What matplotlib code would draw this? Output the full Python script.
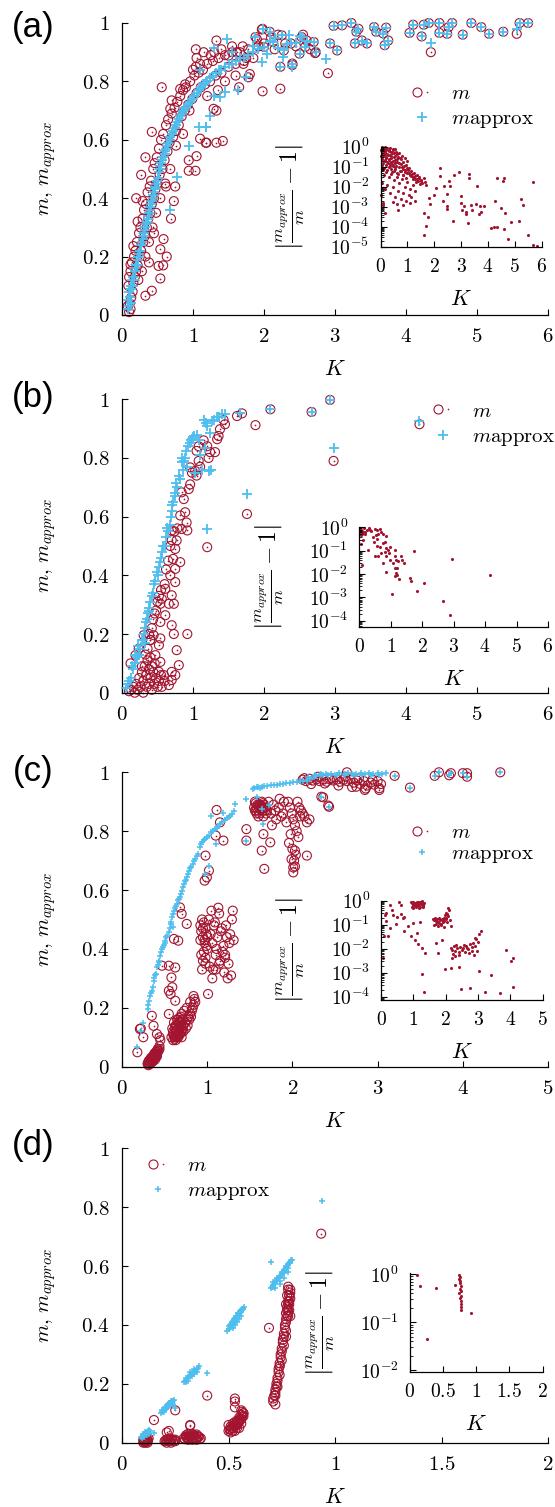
import numpy as np
import matplotlib
matplotlib.use('Agg')
import matplotlib.pyplot as plt
from matplotlib.lines import Line2D
from matplotlib.legend_handler import HandlerTuple
from matplotlib.ticker import FixedLocator, FuncFormatter, LogLocator, NullFormatter

# ---------------- data: panel (a) ----------------
Ka_band = [0.08,0.09,0.10,0.10,0.11,0.12,0.12,0.13,0.14,0.15,
           0.16,0.17,0.18,0.19,0.20,0.21,0.22,0.23,0.24,0.25,
           0.26,0.27,0.28,0.29,0.30,0.31,0.32,0.33,0.34,0.35,
           0.36,0.37,0.38,0.39,0.40,0.41,0.42,0.43,0.44,0.45,
           0.46,0.47,0.48,0.49,0.50,0.52,0.53,0.54,0.55,0.57,
           0.58,0.60,0.61,0.62,0.64,0.65,0.67,0.68,0.70,0.72,
           0.74,0.76,0.78,0.80,0.82,0.84,0.86,0.88,0.90,0.93,
           0.96,0.99,1.02,1.05,1.08,1.11,1.14,1.17,1.20,1.24,
           1.28,1.32,1.36,1.40,1.45,1.50,1.55,1.60,1.66,1.72,
           1.78,1.85,1.92]
mpa_band = [0.02,0.05,0.03,0.08,0.06,0.10,0.04,0.09,0.12,0.10,
            0.13,0.12,0.15,0.16,0.17,0.17,0.19,0.20,0.21,0.22,
            0.22,0.24,0.25,0.26,0.27,0.28,0.29,0.30,0.31,0.32,
            0.33,0.34,0.35,0.36,0.37,0.38,0.39,0.40,0.41,0.42,
            0.43,0.44,0.45,0.46,0.47,0.49,0.50,0.51,0.52,0.53,
            0.54,0.55,0.56,0.57,0.58,0.59,0.60,0.61,0.62,0.63,
            0.64,0.65,0.66,0.67,0.68,0.69,0.70,0.71,0.71,0.72,
            0.73,0.74,0.75,0.76,0.77,0.78,0.79,0.79,0.80,0.81,
            0.82,0.83,0.84,0.84,0.85,0.86,0.86,0.87,0.88,0.88,
            0.89,0.90,0.91]
ma_band = [0.03,0.10,0.01,0.13,0.04,0.15,0.02,0.06,0.18,0.08,
           0.11,0.20,0.13,0.22,0.15,0.25,0.17,0.12,0.28,0.20,
           0.30,0.22,0.15,0.33,0.25,0.36,0.27,0.20,0.38,0.30,
           0.42,0.33,0.25,0.44,0.35,0.46,0.38,0.30,0.50,0.40,
           0.52,0.43,0.35,0.54,0.45,0.57,0.48,0.40,0.60,0.50,
           0.62,0.53,0.45,0.65,0.56,0.67,0.59,0.50,0.69,0.61,
           0.71,0.63,0.73,0.65,0.75,0.68,0.77,0.70,0.78,0.72,
           0.80,0.74,0.82,0.76,0.83,0.78,0.84,0.79,0.86,0.80,
           0.87,0.82,0.88,0.83,0.89,0.85,0.90,0.86,0.90,0.87,
           0.91,0.88,0.92]
Ka_rx = [1.04,1.33,1.05,1.04,0.56,0.42,0.33,0.27,0.20,0.29,
         0.22,0.16,0.12,0.54,0.42,0.33,0.515,0.54,0.585,0.69,
         0.73,0.75,0.94,1.035,1.05,0.94,1.10,1.19,1.33,1.42,
         0.68,0.70,0.82,0.89,1.29,1.33,1.98,2.23,1.78,1.80,
         1.71,1.50,2.40,2.72,2.90,1.90,1.97,0.63,0.58,1.18,
         1.25,1.30,1.40,1.55,1.62,1.70,1.75,2.00,2.10,2.15,
         2.20,2.30,2.45,2.55,2.60,2.65,1.10,1.15,1.00,1.20,
         1.35,1.45,1.60,1.65,0.76,0.86,0.95,0.62,0.45,0.38]
ma_rx = [0.91,0.94,0.88,0.85,0.78,0.627,0.54,0.48,0.40,0.39,
         0.32,0.236,0.173,0.125,0.083,0.066,0.168,0.225,0.26,0.33,
         0.39,0.44,0.494,0.494,0.544,0.53,0.604,0.59,0.59,0.596,
         0.706,0.735,0.774,0.79,0.706,0.70,0.766,0.775,0.814,0.825,
         0.86,0.888,0.856,0.897,0.828,0.944,0.978,0.20,0.17,0.59,
         0.89,0.90,0.91,0.92,0.90,0.92,0.88,0.93,0.95,0.91,
         0.96,0.93,0.92,0.96,0.94,0.91,0.86,0.90,0.84,0.75,
         0.77,0.80,0.82,0.78,0.58,0.62,0.70,0.44,0.28,0.18]
Ka_bx = [0.68,0.77,0.94,1.08,1.19,1.24,1.29,1.38,1.45,1.48,
         1.29,1.64,1.74,2.27,2.39,2.20,2.50,2.32,1.97,2.04,
         2.08,2.88,1.18,1.10,1.55,1.85,2.15,2.35,2.45,2.60]
mpa_bx = [0.36,0.474,0.58,0.644,0.644,0.68,0.75,0.746,0.763,0.944,
          0.916,0.77,0.814,0.882,0.848,0.916,0.955,0.927,0.865,0.893,
          0.939,0.878,0.645,0.84,0.90,0.92,0.95,0.96,0.93,0.94]
Ka_hi = [2.93,2.98,3.03,2.70,2.73,2.53,2.50,2.40,2.38,2.23,
         2.25,2.08,1.98,1.88,2.00,2.13,2.28,2.58,3.10,3.23,
         3.30,3.38,3.45,3.55,3.68,3.70,3.75,4.05,4.10,4.22,
         4.25,4.32,4.47,4.47,4.60,4.65,4.58,4.80,4.92,5.06,
         5.17,5.37,5.60,5.72,3.28,3.33,3.58,3.72,4.35,5.56]
ma_hi = [0.93,0.99,0.906,0.935,0.90,0.952,0.895,0.861,0.93,0.85,
         0.958,0.97,0.98,0.952,0.918,0.935,0.906,0.918,0.992,1.0,
         0.97,0.94,0.93,0.986,0.964,0.924,0.94,0.966,0.994,0.954,
         0.994,1.0,1.0,0.966,0.986,1.0,0.963,0.96,1.0,0.986,
         0.963,0.97,1.0,1.0,0.93,0.98,0.97,0.984,0.90,0.963]
mpa_hi = [0.93,0.99,0.906,0.935,0.90,0.952,0.895,0.861,0.93,0.85,
          0.958,0.97,0.98,0.952,0.918,0.935,0.906,0.918,0.992,1.0,
          0.97,0.94,0.93,0.986,0.964,0.924,0.94,0.966,0.994,0.954,
          0.994,1.0,1.0,0.966,0.986,1.0,0.963,0.96,1.0,0.986,
          0.963,0.97,1.0,1.0,0.93,0.98,0.97,0.984,0.93,0.98]
# inset (a): K and log10|m_approx/m - 1|
Ka_in = [0.05,0.10,0.15,0.20,0.25,0.30,0.35,0.40,0.45,0.50,0.55,0.60,
         0.05,0.10,0.15,0.20,0.25,0.30,0.35,0.40,0.45,0.50,0.55,0.60,
         0.05,0.10,0.15,0.20,0.25,0.30,0.35,0.40,0.45,0.50,0.55,0.60,
         0.65,0.70,0.75,0.80,0.85,0.90,0.95,1.00,1.05,1.10,1.15,1.20,1.25,1.30,1.35,1.40,1.45,1.50,1.55,1.60,1.65,1.70,
         0.08,0.12,0.20,0.30,0.40,0.50,0.60,0.70,0.80,0.90,1.00,1.10,1.20,1.30,
         0.06,0.15,0.25,0.35,0.45,0.55,0.65,0.75,0.85,0.95,1.05,1.15,
         0.03,0.08,0.60,0.45,0.70,0.80,0.90,1.00,0.75,0.85,
         0.10,0.16,0.64,0.85,1.10,1.29,1.63,1.69,1.63,1.75,
         1.85,1.82,2.00,2.07,2.23,2.20,2.38,2.48,2.33,2.54,
         2.58,2.71,2.46,2.48,2.73,2.92,2.98,3.05,3.00,3.10,
         3.17,3.20,3.30,3.31,3.38,3.26,3.42,3.58,3.55,3.67,
         3.71,3.73,3.86,4.11,4.24,4.27,4.34,4.34,4.49,4.55,
         4.61,4.64,4.61,4.74,4.86,5.17,5.23,5.30,5.50,5.70,5.85,5.68]
la_in = [-0.05,-0.10,-0.03,-0.15,-0.08,-0.20,-0.05,-0.25,-0.12,-0.30,-0.10,-0.35,
         -0.30,-0.45,-0.25,-0.50,-0.35,-0.60,-0.40,-0.55,-0.70,-0.50,-0.80,-0.60,
         -0.60,-0.80,-0.65,-0.90,-0.75,-1.00,-0.85,-1.10,-0.95,-1.20,-1.00,-1.30,
         -0.50,-0.80,-0.60,-1.00,-0.75,-1.15,-0.90,-1.30,-1.05,-1.40,-1.20,-1.50,-1.30,-1.60,-1.40,-1.70,-1.50,-1.65,-1.80,-1.55,-1.75,-1.90,
         -1.10,-1.40,-1.25,-1.50,-1.35,-1.65,-1.50,-1.80,-1.60,-2.00,-1.75,-2.10,-1.90,-2.20,
         -1.80,-2.10,-1.90,-2.30,-2.00,-2.50,-2.20,-2.60,-2.30,-2.70,-2.40,-2.50,
         -2.40,-2.90,-2.85,-2.75,-0.30,-0.45,-0.55,-0.70,-1.20,-1.40,
         -2.8,-3.3,-3.15,-2.9,-2.8,-2.73,-3.32,-3.96,-4.41,-3.52,
         -2.87,-2.56,-2.4,-2.06,-1.05,-1.47,-1.97,-2.35,-2.73,-1.72,
         -1.97,-3.69,-2.98,-3.1,-1.39,-1.27,-2.48,-3.15,-2.81,-2.98,
         -3.24,-3.35,-1.34,-1.55,-2.9,-3.82,-3.15,-1.97,-2.87,-3.35,
         -2.95,-3.24,-2.98,-4.08,-3.99,-2.73,-1.55,-3.99,-3.07,-1.72,
         -1.55,-3.32,-4.12,-4.63,-3.74,-3.73,-2.63,-2.90,-4.40,-4.90,-4.97,-1.78]
Ka_in3 = [0.02,0.07,0.12,0.17,0.22,0.27,0.32,0.37,0.42,0.47,0.52,0.57,
          0.02,0.07,0.12,0.17,0.22,0.27,0.32,0.37,0.42,0.47,0.52,0.57,
          0.62,0.67,0.72,0.77,0.82,0.87,0.92,0.97,1.02,1.07,1.12,1.17,1.22,1.27,1.32,1.37,1.42,1.47,1.52,
          0.04,0.14,0.24,0.34,0.44,0.54,0.64,0.74,0.84,0.94]
la_in3 = [-0.15,-0.02,-0.20,-0.35,-0.10,-0.40,-0.15,-0.45,-0.30,-0.15,-0.45,-0.25,
          -0.45,-0.60,-0.40,-0.70,-0.55,-0.80,-0.65,-0.75,-0.85,-0.90,-0.65,-0.95,
          -0.75,-1.00,-0.55,-0.85,-1.10,-0.95,-1.25,-1.05,-1.15,-1.30,-1.45,-1.35,-1.60,-1.45,-1.75,-1.60,-1.55,-1.85,-1.70,
          -0.90,-1.05,-1.15,-0.95,-1.25,-1.10,-1.35,-1.20,-1.40,-1.55]

# ---------------- data: panel (b) ----------------
Kb_p = [0.05,0.12,0.16,0.21,0.26,0.30,0.33,0.35,0.375,0.40,
        0.44,0.47,0.49,0.53,0.56,0.60,0.63,0.67,0.70,0.72,
        0.74,0.76,0.82,0.84,0.89,0.905,0.96,0.985,1.02,1.03,
        1.13,1.22,1.10,1.17,1.24,1.20,1.27,1.34,1.41,1.45,
        1.66,2.09,2.67,2.93,1.76,1.20,2.98,4.19,
        0.08,0.10,0.14,0.18,0.19,0.23,0.24,0.28,0.31,0.32,
        0.34,0.36,0.38,0.42,0.45,0.50,0.52,0.55,0.58,0.62,
        0.65,0.69,0.71,0.75,0.78,0.80,0.86,0.88,0.93,0.97,
        1.00,1.05,1.08,1.15,1.19,1.30,1.37,0.85,0.92,1.25]
mb_p = [0.015,0.05,0.08,0.12,0.15,0.18,0.22,0.25,0.28,0.31,
        0.34,0.38,0.41,0.445,0.48,0.50,0.56,0.57,0.62,0.65,
        0.67,0.715,0.73,0.785,0.80,0.825,0.85,0.865,0.875,0.75,
        0.76,0.755,0.81,0.835,0.885,0.91,0.925,0.94,0.95,0.95,
        0.955,0.966,0.958,0.998,0.677,0.558,0.833,0.927,
        0.03,0.04,0.09,0.10,0.13,0.16,0.13,0.18,0.20,0.17,
        0.24,0.27,0.29,0.33,0.37,0.40,0.43,0.46,0.50,0.53,
        0.55,0.60,0.64,0.68,0.70,0.74,0.76,0.79,0.84,0.86,
        0.87,0.88,0.86,0.93,0.92,0.93,0.94,0.80,0.77,0.76]
Kb_m = [1.62,1.69,1.88,2.09,2.67,2.93,2.98,1.76,1.20,1.45,
        1.43,1.38,1.36,1.34,1.31,1.24,1.22,1.20,1.15,1.08,
        1.05,1.08,1.10,1.03,0.985,0.96,1.05,0.96,0.94,0.84,
        0.87,0.89,0.82,0.91,0.92,0.84,0.70,0.77,0.75,0.72,
        0.82,0.75,0.75,0.68,0.61,0.70,0.73,0.66,0.54,0.61,
        0.54,0.70,0.73,0.77,0.92,0.52,0.54,0.445,0.40,0.305,
        0.235,0.19,0.12,0.54,0.47,0.52,0.59,0.70,0.75,0.80,
        0.70,0.66,4.19,
        0.10,0.13,0.16,0.18,0.20,0.22,0.24,0.26,0.28,0.30,
        0.30,0.32,0.34,0.35,0.36,0.38,0.38,0.40,0.40,0.42,
        0.42,0.44,0.45,0.46,0.48,0.50,0.52,0.55,0.56,0.60,
        0.36,0.38,0.40,0.42,0.44,0.46,0.48,0.50,0.52,0.55,
        0.56,0.60,0.62,0.65,0.68,0.70,0.74,0.78,0.33,0.28]
mb_m = [0.943,0.952,0.912,0.966,0.957,0.998,0.79,0.609,0.496,0.915,
        0.93,0.898,0.875,0.864,0.82,0.82,0.80,0.84,0.86,0.84,
        0.824,0.79,0.77,0.756,0.75,0.768,0.74,0.71,0.694,0.683,
        0.66,0.615,0.604,0.58,0.553,0.558,0.553,0.519,0.49,0.456,
        0.445,0.422,0.377,0.40,0.354,0.332,0.303,0.303,0.303,0.264,
        0.241,0.23,0.20,0.145,0.20,0.162,0.185,0.196,0.179,0.196,
        0.15,0.128,0.10,0.105,0.128,0.071,0.06,0.071,0.06,0.094,
        0.043,0.026,0.915,
        0.005,0.01,0.02,0.0,0.03,0.01,0.05,0.02,0.07,0.04,
        0.0,0.09,0.06,0.02,0.11,0.08,0.03,0.12,0.05,0.09,
        0.01,0.07,0.03,0.10,0.05,0.02,0.04,0.06,0.02,0.04,
        0.15,0.20,0.18,0.22,0.25,0.27,0.28,0.31,0.33,0.35,
        0.32,0.37,0.42,0.45,0.50,0.52,0.55,0.56,0.13,0.09]
Kb_in = [0.02,0.05,0.10,0.15,0.20,0.25,0.03,0.08,0.12,0.18,
         0.13,0.07,0.10,0.28,0.39,0.49,0.65,0.70,0.60,0.76,
         0.86,0.44,0.55,0.47,0.55,0.76,0.81,0.65,0.49,0.60,
         0.70,0.81,0.86,0.92,0.95,0.97,0.86,0.76,0.86,0.99,
         1.13,1.13,1.18,1.07,1.13,1.20,1.34,1.37,1.41,1.23,
         1.18,1.20,1.28,1.13,1.04,1.60,1.65,1.74,1.83,2.05,
         2.65,2.95,2.89,4.15,0.04,0.06,0.30,0.35,0.58,0.52]
lb_in = [-0.05,-0.10,-0.15,-0.05,-0.20,-0.10,-0.25,-0.30,-0.22,-0.30,
         -0.56,-0.72,-1.60,-0.97,-0.14,-0.07,-0.07,-0.20,-0.28,-0.28,
         -0.375,-0.42,-0.49,-0.65,-0.79,-0.69,-0.62,-0.83,-1.22,-1.22,
         -1.11,-1.04,-0.90,-0.97,-1.11,-0.83,-1.25,-1.53,-1.92,-1.39,
         -0.97,-1.25,-1.39,-1.53,-1.74,-1.74,-1.25,-1.39,-1.53,-1.46,
         -1.94,-2.06,-2.22,-2.08,-2.85,-2.19,-2.31,-1.00,-2.75,-2.39,
         -3.15,-1.35,-3.78,-2.03,-0.02,-0.35,-0.05,-0.12,-0.10,-0.35]

# ---------------- data: panel (c) ----------------
Kc_p = [0.18,0.22,0.25,0.30,0.32,0.35,0.37,0.40,0.41,0.43,
        0.45,0.48,0.51,0.55,0.57,0.59,0.61,0.64,0.68,0.70,
        0.73,0.76,0.79,0.83,0.86,0.89,0.91,0.94,0.98,1.02,
        1.05,1.09,1.13,1.17,1.21,1.25,1.29,1.32,1.33,1.19,
        1.04,1.46,1.58,1.54,1.58,1.64,1.70,1.78,1.86,1.93,
        2.01,2.09,2.17,2.21,2.28,2.36,1.10,1.46,1.02,0.98,
        0.60,1.66,1.73,1.64,2.34,2.43,
        0.31,0.33,0.34,0.36,0.38,0.39,0.42,0.44,0.46,0.47,
        0.49,0.50,0.52,0.53,0.56,0.58,0.60,0.62,0.63,0.66,
        0.67,0.69,0.72,0.74,0.75,0.78,0.80,0.81,0.85,0.88,
        0.93,0.96,1.00,1.07,1.11,1.15,1.23,1.27,1.55,1.60,
        1.62,1.67,1.75,1.82,1.89,1.97,2.05,2.13,2.25,2.32,
        2.40,2.45,2.50,2.55,2.60,2.65,2.70,2.75,2.80,2.85,
        2.90,2.95,3.00,3.05,3.10,2.42,2.52,2.62,2.72,2.82,
        2.92,3.02,3.20,3.38,3.67,3.72,3.84,3.86,4.00,4.05,
        4.44,2.18,2.26,2.34]
mc_p = [0.068,0.12,0.147,0.196,0.224,0.258,0.292,0.315,0.337,0.354,
        0.377,0.405,0.428,0.456,0.485,0.507,0.53,0.553,0.575,0.598,
        0.62,0.645,0.666,0.689,0.705,0.722,0.745,0.762,0.773,0.785,
        0.796,0.807,0.819,0.83,0.838,0.847,0.858,0.87,0.892,0.861,
        0.853,0.909,0.915,0.943,0.949,0.951,0.955,0.958,0.96,0.962,
        0.966,0.969,0.972,0.977,0.989,0.992,0.757,0.766,0.683,0.655,
        0.473,0.824,0.89,0.875,0.917,0.883,
        0.21,0.24,0.25,0.27,0.30,0.31,0.345,0.36,0.39,0.40,
        0.415,0.42,0.44,0.445,0.47,0.49,0.52,0.54,0.545,0.565,
        0.57,0.585,0.61,0.63,0.635,0.655,0.675,0.68,0.70,0.715,
        0.755,0.77,0.78,0.80,0.81,0.825,0.845,0.85,0.945,0.95,
        0.948,0.953,0.956,0.957,0.961,0.963,0.967,0.970,0.985,0.99,
        0.993,0.995,0.992,0.996,0.994,0.997,0.993,0.995,0.998,0.994,
        0.996,0.993,0.997,0.995,0.998,0.99,0.99,0.99,0.99,0.99,
        0.99,0.99,0.988,0.948,0.988,1.0,0.99,0.997,0.997,0.985,
        1.0,0.985,0.99,0.993]
Kc_m = [0.30,0.31,0.32,0.33,0.34,0.35,0.36,0.37,0.38,0.39,0.40,0.41,0.42,0.43,0.44,
        0.32,0.34,0.36,0.38,0.40,0.42,0.44,0.31,0.33,0.35,0.37,0.39,0.41,
        0.58,0.60,0.62,0.64,0.66,0.68,0.70,0.72,0.59,0.61,0.63,0.65,0.67,0.69,0.71,
        0.60,0.62,0.64,0.66,0.68,0.70,0.72,0.74,0.76,0.78,0.80,0.82,0.84,0.85,
        0.75,0.77,0.79,0.81,0.83,0.86,0.70,0.73,0.76,0.80,0.84,
        0.92,0.93,0.94,0.95,0.96,0.97,0.98,0.99,1.00,0.93,0.95,0.97,0.99,0.94,0.96,0.98,1.00,0.92,0.95,0.98,
        1.02,1.04,1.06,1.08,1.10,1.12,1.14,1.16,1.03,1.07,1.11,1.15,1.05,1.09,1.13,1.17,1.19,1.21,1.23,1.25,
        1.27,1.29,1.31,1.20,1.24,1.28,1.22,1.26,1.30,1.18,1.21,1.06,1.10,1.14,
        1.55,1.57,1.59,1.61,1.63,1.65,1.67,1.69,1.56,1.60,1.64,1.68,1.58,1.62,1.66,1.70,1.72,1.75,1.78,1.81,
        1.84,1.87,1.90,1.93,1.76,1.80,1.85,1.89,1.95,1.97,1.99,2.01,2.03,2.05,2.07,2.09,1.96,2.00,2.04,2.08,
        2.02,2.06,2.10,2.12,2.14,2.17,2.20,1.98,2.03,2.01,
        2.12,2.16,2.20,2.24,2.28,2.32,2.36,2.40,2.44,2.48,2.52,2.56,2.60,2.64,2.68,2.72,2.76,2.80,2.84,2.88,
        2.92,2.96,3.00,3.04,2.14,2.22,2.30,2.38,2.46,2.54,2.62,2.70,2.78,2.86,2.94,3.02,2.75,2.85,3.02,2.64,
        3.20,3.38,3.67,3.72,3.84,3.86,4.00,4.05,4.05,4.44,2.34,2.43,2.36,2.42,
        0.18,0.21,0.25,0.35,0.37,0.41,0.44,0.47,0.55,0.58,
        0.59,0.55,0.57,0.625,0.55,0.70,0.68,0.76,0.61,0.66,
        0.625,1.01,1.19,1.10,0.98,0.97,0.996,1.02,1.15,1.11,
        1.46,1.46,1.64,1.66,1.67,1.74,2.17,1.99,2.01,2.03,
        0.22,0.45]
mc_m = [0.01,0.015,0.01,0.02,0.015,0.025,0.02,0.03,0.03,0.04,0.035,0.045,0.05,0.055,0.06,
        0.02,0.03,0.035,0.045,0.05,0.06,0.07,0.005,0.01,0.015,0.02,0.025,0.035,
        0.10,0.11,0.10,0.12,0.11,0.13,0.12,0.14,0.13,0.15,0.14,0.16,0.15,0.17,0.16,
        0.09,0.095,0.10,0.105,0.11,0.10,0.12,0.15,0.16,0.17,0.18,0.19,0.21,0.23,
        0.13,0.14,0.16,0.17,0.20,0.22,0.18,0.19,0.20,0.22,0.24,
        0.48,0.46,0.50,0.44,0.49,0.42,0.47,0.45,0.40,0.38,0.36,0.43,0.41,0.33,0.39,0.37,0.44,0.43,0.47,0.35,
        0.50,0.45,0.42,0.48,0.38,0.44,0.52,0.46,0.34,0.33,0.40,0.36,0.53,0.49,0.54,0.47,0.41,0.38,0.44,0.35,
        0.45,0.50,0.43,0.32,0.30,0.31,0.48,0.42,0.53,0.39,0.37,0.30,0.33,0.35,
        0.88,0.87,0.89,0.86,0.88,0.87,0.89,0.86,0.90,0.85,0.90,0.88,0.86,0.89,0.85,0.87,0.90,0.86,0.89,0.84,
        0.88,0.85,0.90,0.83,0.82,0.87,0.91,0.86,0.90,0.88,0.86,0.84,0.82,0.80,0.78,0.85,0.76,0.74,0.72,0.88,
        0.70,0.90,0.87,0.86,0.85,0.83,0.84,0.79,0.68,0.66,
        0.975,0.97,0.978,0.972,0.976,0.97,0.975,0.968,0.976,0.972,0.975,0.968,0.974,0.97,0.977,0.965,0.972,0.96,0.97,0.955,
        0.965,0.958,0.97,0.96,0.98,0.96,0.985,0.962,0.98,0.955,0.985,0.95,0.98,0.945,0.975,0.94,0.951,0.94,0.946,1.0,
        0.988,0.948,0.988,1.0,0.99,0.997,0.997,0.985,0.997,1.0,0.917,0.883,0.915,0.887,
        0.049,0.128,0.10,0.173,0.139,0.111,0.10,0.343,0.343,0.303,
        0.27,0.258,0.247,0.224,0.179,0.519,0.541,0.485,0.434,0.428,
        0.337,0.247,0.768,0.785,0.717,0.632,0.643,0.666,0.83,0.872,
        0.768,0.807,0.734,0.79,0.672,0.762,0.717,0.705,0.677,0.734,
        0.13,0.09]
Kc_m2 = [0.61,0.63,0.65,0.67,0.69,0.62,0.64,0.66,0.68,0.70,0.60,0.63,0.66,0.69,0.71,0.65,0.67,0.64,
         1.56,1.58,1.60,1.62,1.64,1.66,1.68,1.57,1.61,1.65,
         0.305,0.315,0.325,0.335,0.345,0.355,0.365,0.375,0.385,0.395,0.405,0.415]
mc_m2 = [0.105,0.12,0.125,0.135,0.14,0.13,0.14,0.145,0.155,0.15,0.12,0.09,0.10,0.12,0.13,0.16,0.165,0.105,
         0.87,0.88,0.87,0.885,0.875,0.88,0.87,0.895,0.89,0.895,
         0.012,0.02,0.018,0.025,0.028,0.03,0.035,0.038,0.042,0.045,0.05,0.055]
Kc_in = [0.93,0.96,0.99,1.02,1.05,1.08,1.11,1.14,1.17,1.20,1.23,1.26,1.29,1.32,0.95,1.00,1.05,1.10,1.15,1.20,1.25,1.30,0.98,1.07,1.18,1.28,
         0.27,0.55,0.60,0.16,0.38,0.49,0.60,0.66,0.71,0.16,
         0.22,0.27,0.71,0.82,0.99,1.21,0.93,1.04,1.10,1.15,
         1.26,1.37,1.26,1.32,0.05,0.10,0.12,0.35,0.45,
         1.60,1.63,1.66,1.69,1.72,1.75,1.78,1.81,1.84,1.87,1.90,1.93,1.96,1.99,2.02,2.05,2.08,
         1.65,1.70,1.75,1.80,1.85,1.90,1.95,2.00,2.05,2.10,2.12,2.15,2.08,2.02,
         2.15,2.20,2.25,2.30,2.35,2.40,2.45,2.50,2.55,2.60,2.65,2.70,2.75,2.80,2.85,2.90,2.95,3.00,
         2.22,2.32,2.42,2.52,2.62,2.72,2.82,2.92,3.02,3.08,2.98,2.88,2.18,2.28,
         1.98,2.16,2.42,2.47,2.75,3.02,3.22,3.40,3.68,3.88,4.01,4.07,4.07,1.76,1.87,1.70]
lc_in = [-0.05,-0.10,-0.04,-0.15,-0.08,-0.20,-0.05,-0.12,-0.22,-0.06,-0.15,-0.08,-0.18,-0.10,-0.25,-0.18,-0.22,-0.12,-0.05,-0.25,-0.03,-0.20,-0.30,-0.28,-0.30,-0.27,
         -0.18,-0.07,-0.18,-0.52,-0.59,-0.66,-0.55,-0.73,-0.66,-0.86,
         -1.48,-1.14,-1.27,-1.07,-0.93,-0.90,-1.48,-1.62,-1.34,-1.82,
         -1.96,-2.16,-3.05,-3.80,-2.37,-1.48,-0.60,-0.40,-0.95,
         -0.75,-0.80,-0.70,-0.85,-0.78,-0.90,-0.72,-0.82,-0.95,-0.78,-0.88,-0.70,-0.85,-0.60,-0.75,-0.90,-0.65,
         -1.00,-0.95,-1.05,-0.92,-1.00,-0.85,-1.08,-0.70,-0.55,-0.40,-0.80,-1.05,-0.30,-0.50,
         -1.95,-2.05,-1.90,-2.10,-1.98,-2.15,-1.92,-2.05,-1.85,-2.12,-1.95,-2.00,-1.80,-2.08,-1.75,-1.90,-1.60,-1.70,
         -2.20,-1.85,-2.25,-1.95,-1.88,-2.18,-1.92,-1.55,-1.40,-1.27,-2.10,-2.25,-2.40,-2.30,
         -2.85,-2.78,-2.74,-3.67,-3.64,-2.92,-3.80,-3.10,-3.84,-2.07,-2.50,-2.37,-3.60,-2.16,-1.62,-1.78]

# ---------------- data: panel (d) ----------------
Kd_p = [0.09,0.10,0.11,0.12,0.13,0.10,0.11,0.12,0.095,0.125,
        0.185,0.195,0.205,0.215,0.225,0.235,0.245,0.19,0.20,0.21,0.22,0.23,0.24,
        0.29,0.30,0.31,0.32,0.33,0.34,0.35,0.36,0.30,0.32,0.34,0.31,0.33,0.35,
        0.495,0.505,0.515,0.525,0.535,0.545,0.555,0.565,0.575,0.50,0.51,0.52,0.53,0.54,0.55,0.56,0.57,0.52,0.54,0.56,
        0.70,0.71,0.72,0.73,0.74,0.75,0.76,0.77,0.78,0.79,0.71,0.73,0.75,0.77,0.79,0.72,0.74,0.76,0.78,0.80,
        0.15,0.40,0.70,0.937,0.25]
md_p = [0.02,0.025,0.03,0.035,0.04,0.03,0.035,0.04,0.015,0.03,
        0.10,0.105,0.115,0.12,0.13,0.135,0.145,0.11,0.12,0.125,0.135,0.14,0.13,
        0.205,0.21,0.22,0.23,0.235,0.245,0.25,0.26,0.22,0.24,0.25,0.21,0.225,0.24,
        0.38,0.39,0.40,0.41,0.42,0.43,0.44,0.45,0.46,0.395,0.40,0.415,0.425,0.43,0.44,0.445,0.455,0.39,0.41,0.43,
        0.525,0.535,0.545,0.555,0.565,0.575,0.585,0.595,0.605,0.615,0.53,0.55,0.57,0.59,0.61,0.525,0.54,0.56,0.58,0.62,
        0.034,0.238,0.615,0.822,0.117]
Kd_p2 = [0.092,0.098,0.105,0.115,0.122,0.128,0.102,0.118,
         0.19,0.20,0.21,0.22,0.23,0.24,0.195,0.215,0.235,
         0.295,0.305,0.315,0.325,0.335,0.345,0.355,0.30,0.32,0.34,
         0.50,0.51,0.52,0.53,0.54,0.55,0.56,0.57,0.505,0.515,0.525,0.535,0.545,0.555,0.565,0.53,0.55,
         0.705,0.715,0.725,0.735,0.745,0.755,0.765,0.775,0.785,0.795,0.71,0.73,0.75,0.77,0.79,0.74,0.76,0.78]
md_p2 = [0.018,0.022,0.028,0.032,0.038,0.042,0.02,0.025,
         0.105,0.11,0.12,0.125,0.13,0.14,0.115,0.13,0.14,
         0.21,0.215,0.225,0.23,0.24,0.245,0.255,0.205,0.225,0.235,
         0.385,0.395,0.405,0.415,0.425,0.435,0.45,0.455,0.40,0.41,0.42,0.43,0.44,0.445,0.455,0.40,0.42,
         0.53,0.54,0.55,0.56,0.57,0.58,0.59,0.60,0.61,0.62,0.545,0.56,0.58,0.60,0.615,0.55,0.575,0.595]
Kd_m = [0.10,0.105,0.11,0.115,0.12,0.125,0.10,0.11,0.12,
        0.20,0.21,0.22,0.23,0.24,0.25,0.21,0.23,0.25,0.21,0.22,0.15,
        0.29,0.30,0.31,0.32,0.33,0.34,0.35,0.36,0.37,0.30,0.32,0.34,0.36,0.31,0.33,0.35,0.32,0.32,
        0.50,0.51,0.52,0.53,0.54,0.55,0.56,0.57,0.50,0.52,0.54,0.56,0.51,0.53,0.55,0.57,0.53,0.53,0.53,0.56,
        0.71,0.715,0.72,0.725,0.73,0.735,0.74,0.745,0.75,0.755,0.76,0.765,0.77,0.775,0.78,0.785,0.79,
        0.72,0.73,0.74,0.75,0.76,0.77,0.78,0.785,0.78,0.77,0.74,0.72,0.71,
        0.40,0.69,0.935,0.25]
md_m = [0.0,0.005,0.01,0.005,0.01,0.015,0.01,0.0,0.0,
        0.005,0.01,0.005,0.01,0.005,0.01,0.0,0.0,0.005,0.035,0.04,0.077,
        0.015,0.02,0.015,0.02,0.015,0.02,0.015,0.02,0.015,0.025,0.03,0.025,0.02,0.01,0.01,0.01,0.058,0.06,
        0.04,0.045,0.05,0.055,0.06,0.07,0.08,0.09,0.06,0.065,0.075,0.095,0.035,0.04,0.05,0.10,0.12,0.14,0.15,0.11,
        0.14,0.16,0.18,0.20,0.22,0.25,0.27,0.30,0.32,0.35,0.37,0.40,0.42,0.45,0.47,0.50,0.52,
        0.13,0.19,0.23,0.28,0.33,0.38,0.43,0.48,0.53,0.36,0.26,0.17,0.15,
        0.16,0.39,0.71,0.11]
Kd_m2 = [0.102,0.108,0.113,0.118,0.122,
         0.205,0.215,0.225,0.235,0.245,0.22,
         0.295,0.305,0.315,0.325,0.335,0.345,0.355,0.365,0.31,0.33,0.35,
         0.505,0.515,0.525,0.535,0.545,0.555,0.565,0.51,0.53,0.55,0.57,0.52,0.54,0.56,0.565,
         0.77,0.775,0.78,0.785,0.79,0.77,0.775,0.78,0.785,0.79,
         0.765,0.76,0.755,0.75,0.745,0.74,0.735,0.73,0.725,0.72,
         0.78,0.785,0.79,0.775,0.77]
md_m2 = [0.003,0.008,0.004,0.012,0.007,
         0.008,0.012,0.008,0.012,0.008,0.015,
         0.012,0.018,0.022,0.012,0.025,0.012,0.022,0.012,0.03,0.03,0.028,
         0.045,0.05,0.06,0.065,0.07,0.08,0.09,0.055,0.07,0.085,0.10,0.04,0.05,0.065,0.105,
         0.41,0.43,0.45,0.47,0.49,0.44,0.46,0.48,0.50,0.51,
         0.39,0.36,0.34,0.31,0.29,0.26,0.24,0.21,0.19,0.16,
         0.52,0.45,0.43,0.50,0.47]
Kd_in = [0.107,0.16,0.256,0.40,0.69,0.75,0.75,0.76,0.76,0.76,0.77,0.77,0.77,0.78,0.75,0.76,0.77,0.78,0.76,0.77,0.93]
ld_in = [-0.02,-0.245,-1.35,-0.29,-0.22,-0.02,-0.10,-0.05,-0.18,-0.30,-0.35,-0.45,-0.55,-0.62,-0.40,-0.50,-0.68,-0.75,-0.15,-0.25,-0.80]

# ---------------- styling ----------------
plt.rcParams['mathtext.fontset'] = 'cm'
plt.rcParams['font.family'] = ['DejaVu Serif']
RED = '#A2142F'
BLUE = '#4DBEEE'
W, H = 555.0, 1507.0
fig = plt.figure(figsize=(W / 100, H / 100), dpi=100)

def axes_px(x0, x1, ytop, ybot):
    return fig.add_axes([x0 / W, 1 - ybot / H, (x1 - x0) / W, (ybot - ytop) / H])

num_fmt = FuncFormatter(lambda v, p: r'$%g$' % v)
log_fmt = FuncFormatter(lambda v, p: r'$10^{%d}$' % int(round(np.log10(v))))

def style_axes(ax, tsize=15, pad=9):
    for s in ('top', 'right'):
        ax.spines[s].set_visible(False)
    for s in ('left', 'bottom'):
        ax.spines[s].set_linewidth(0.9)
    ax.tick_params(which='major', direction='in', length=4, width=0.8, labelsize=tsize, pad=pad)
    ax.tick_params(which='minor', direction='in', length=2, width=0.6)
    ax.patch.set_alpha(0)

def main_panel(ytop, ybot, Kr, mr, Kb, mb, xmax, xstep, psize, plw, legpos, legsp):
    ax = axes_px(122, 548, ytop, ybot)
    ax.scatter(Kr, mr, s=42, facecolors='none', edgecolors=RED, linewidths=0.8, clip_on=False, zorder=2)
    ax.scatter(Kr, mr, s=1.5, c=RED, linewidths=0, clip_on=False, zorder=2)
    ax.scatter(Kb, mb, s=psize, marker='+', c=BLUE, linewidths=plw, clip_on=False, zorder=3)
    ax.set_xlim(0, xmax)
    ax.set_ylim(0, 1)
    ax.xaxis.set_major_locator(FixedLocator(np.arange(0, xmax + 1e-9, xstep)))
    ax.yaxis.set_major_locator(FixedLocator([0, 0.2, 0.4, 0.6, 0.8, 1.0]))
    ax.xaxis.set_major_formatter(num_fmt)
    ax.yaxis.set_major_formatter(num_fmt)
    style_axes(ax)
    h1 = Line2D([], [], marker='o', ls='none', mfc='none', mec=RED, ms=6.5, mew=0.8)
    h2 = Line2D([], [], marker='o', ls='none', mfc=RED, mec=RED, ms=1.2, mew=0)
    h3 = Line2D([], [], marker='+', ls='none', color=BLUE, ms=np.sqrt(psize), mew=plw)
    lx, ly = legpos
    ax.legend([(h1, h2), h3], [r'$m$', r'$m\mathrm{approx}$'],
              handler_map={tuple: HandlerTuple(ndivide=None)},
              loc='center left', bbox_to_anchor=(lx / W, 1 - ly / H), bbox_transform=fig.transFigure,
              frameon=False, fontsize=15, handlelength=1.0, handletextpad=0.9,
              borderpad=0, borderaxespad=0, labelspacing=legsp)
    fig.text(48 / W, 1 - (ytop + ybot) / 2 / H, r'$m,\, m_{approx}$', rotation=90,
             ha='center', va='center', fontsize=15)
    fig.text(335 / W, 1 - (ybot + 54) / H, r'$K$', ha='center', va='center', fontsize=16)
    return ax

def inset_panel(x0, x1, ytop, ybot, K, lerr, xmax, xstep, ylo, yhi, ymajor, ylab_x):
    ax = axes_px(x0, x1, ytop, ybot)
    ax.scatter(K, np.power(10.0, lerr), s=5, c=RED, linewidths=0, clip_on=False)
    ax.set_yscale('log')
    ax.set_xlim(0, xmax)
    ax.set_ylim(10 ** ylo, 10 ** yhi)
    ax.xaxis.set_major_locator(FixedLocator(np.arange(0, xmax + 1e-9, xstep)))
    ax.xaxis.set_major_formatter(num_fmt)
    ax.yaxis.set_major_locator(FixedLocator(ymajor))
    ax.yaxis.set_major_formatter(log_fmt)
    ax.yaxis.set_minor_locator(LogLocator(base=10, subs=np.arange(2, 10), numticks=20))
    ax.yaxis.set_minor_formatter(NullFormatter())
    style_axes(ax, tsize=14, pad=8)
    fig.text((x0 + x1) / 2 / W, 1 - (ybot + 52) / H, r'$K$', ha='center', va='center', fontsize=16)
    fig.text(ylab_x / W, 1 - (ytop + ybot) / 2 / H, r'$\left|\frac{m_{approx}}{m}-1\right|$',
             rotation=90, ha='center', va='center', fontsize=17)
    return ax

# panel (a)
main_panel(23, 315, Ka_band + Ka_rx + Ka_hi, ma_band + ma_rx + ma_hi,
           Ka_band + Ka_bx + Ka_hi, mpa_band + mpa_bx + mpa_hi,
           6, 1, 48, 1.3, (411.6, 107), 0.3)
inset_panel(380.6, 541.5, 146.7, 246.7, Ka_in + Ka_in3, la_in + la_in3, 6, 1, -5.0, 0.0,
            [1e-5, 1e-4, 1e-3, 1e-2, 1e-1, 1], 291)
# panel (b)
main_panel(399.3, 692.7, Kb_m, mb_m, Kb_p, mb_p, 6, 1, 48, 1.3, (432.6, 424.7), 0.3)
inset_panel(359.2, 548, 527.3, 626.7, Kb_in, lb_in, 6, 1, -4.26, 0.0,
            [1e-4, 1e-3, 1e-2, 1e-1, 1], 270)
# panel (c)
main_panel(772.3, 1066.7, Kc_m + Kc_m2, mc_m + mc_m2, Kc_p, mc_p, 5, 1, 22, 1.1, (411.6, 844), 0.1)
inset_panel(381.2, 542.6, 900.7, 1000, Kc_in, lc_in, 5, 1, -4.13, 0.0,
            [1e-4, 1e-3, 1e-2, 1e-1, 1], 291)
# panel (d)
main_panel(1148.3, 1442.7, Kd_m + Kd_m2, md_m + md_m2, Kd_p + Kd_p2, md_p + md_p2,
           2, 0.5, 22, 1.1, (147.4, 1179), 0.3)
inset_panel(409.6, 542.6, 1273.3, 1372.3, Kd_in, ld_in, 2, 0.5, -2.04, 0.02,
            [1e-2, 1e-1, 1], 321)

for lab, yc in (('(a)', 27), ('(b)', 397), ('(c)', 771), ('(d)', 1145)):
    fig.text(33 / W, 1 - yc / H, lab, ha='center', va='center', fontsize=25,
             family=['Liberation Sans', 'DejaVu Sans'])

fig.savefig('out.png', dpi=100)
